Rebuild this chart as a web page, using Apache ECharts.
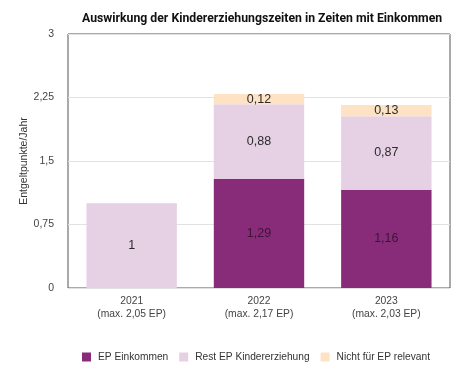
<!DOCTYPE html>
<html>
<head>
<meta charset="utf-8">
<script src="https://cdn.jsdelivr.net/npm/echarts@6/dist/echarts.min.js"></script>
<style>
  html, body { margin: 0; padding: 0; background: #fff; }
  #chart { width: 474px; height: 376px; }
</style>
</head>
<body>
<div id="chart"></div>
<script>
var categories = ['2021\n(max. 2,05 EP)', '2022\n(max. 2,17 EP)', '2023\n(max. 2,03 EP)'];
var epEinkommen = [null, 1.29, 1.16];
var restKindererziehung = [1, 0.88, 0.87];
var nichtRelevant = [null, 0.12, 0.13];
var yTicks = [0, 0.75, 1.5, 2.25, 3];

function fmt(v) {
  return String(v).replace('.', ',');
}

var myChart = echarts.init(document.getElementById('chart'));

var FONT = '"Liberation Sans", Arial, sans-serif';

var labelStyle = {
  show: true,
  position: 'inside',
  fontFamily: FONT,
  fontSize: 12.5,
  color: '#2b2b2b',
  formatter: function (p) { return fmt(p.value); }
};

var option = {
  animation: false,
  title: {
    text: 'Auswirkung der Kindererziehungszeiten in Zeiten mit Einkommen',
    left: 77,
    top: 8,
    textStyle: { fontFamily: 'Roboto', fontWeight: 'bold', fontSize: 12.25, color: '#111' }
  },
  grid: {
    left: 68, right: 24, top: 34, bottom: 88,
    show: true,
    borderColor: '#555',
    borderWidth: 1
  },
  legend: {
    bottom: 9,
    left: 77,
    width: 400,
    itemWidth: 9,
    itemHeight: 9,
    itemGap: 11,
    icon: 'rect',
    textStyle: { fontFamily: FONT, fontSize: 10.2, color: '#333', padding: [0, 0, 0, 2] },
    data: ['EP Einkommen', 'Rest EP Kindererziehung', 'Nicht für EP relevant']
  },
  xAxis: {
    type: 'category',
    data: categories,
    axisLine: { show: false },
    axisTick: { show: false },
    axisLabel: { fontFamily: FONT, fontSize: 10.3, color: '#444', lineHeight: 13, margin: 7 }
  },
  yAxis: {
    type: 'value',
    min: yTicks[0],
    max: yTicks[yTicks.length - 1],
    interval: 0.75,
    name: 'Entgeltpunkte/Jahr',
    nameLocation: 'middle',
    nameGap: 38,
    nameMoveOverlap: false,
    nameTextStyle: { fontFamily: FONT, fontSize: 10.5, color: '#333' },
    axisLine: { show: false },
    axisTick: { show: false },
    axisLabel: { fontFamily: FONT, fontSize: 10.5, color: '#444', margin: 14, formatter: fmt },
    splitLine: { lineStyle: { color: '#e2e2e2' } }
  },
  series: [{
    name: 'EP Einkommen',
    type: 'bar',
    stack: 'a',
    barWidth: '71%',
    data: epEinkommen,
    itemStyle: { color: '#882c7a' },
    label: Object.assign({}, labelStyle, { color: '#3a1536' })
  }, {
    name: 'Rest EP Kindererziehung',
    type: 'bar',
    stack: 'a',
    data: restKindererziehung,
    itemStyle: { color: '#e6d0e4' },
    label: labelStyle
  }, {
    name: 'Nicht für EP relevant',
    type: 'bar',
    stack: 'a',
    data: nichtRelevant,
    itemStyle: { color: '#fde2c3' },
    label: labelStyle
  }]
};

myChart.setOption(option);
</script>
</body>
</html>
